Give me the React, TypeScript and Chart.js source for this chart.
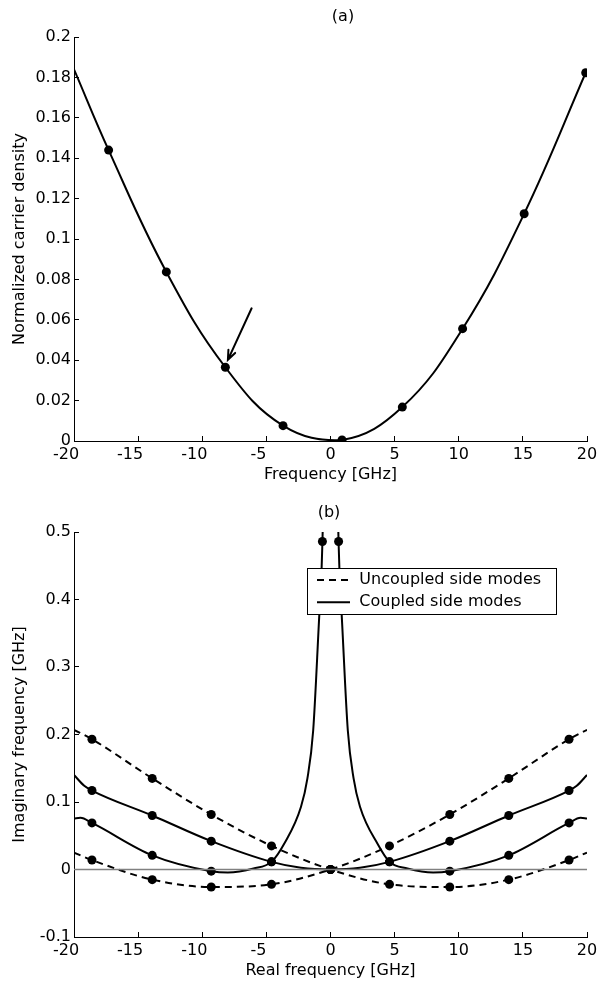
import React, { useEffect, useRef } from "react";
import { Chart, registerables } from "chart.js";

Chart.register(...registerables);

// ---------------- Panel (a) data ----------------
const xTickValues = [-20, -15, -10, -5, 0, 5, 10, 15, 20];
const yTickValuesA = [0, 0.02, 0.04, 0.06, 0.08, 0.1, 0.12, 0.14, 0.16, 0.18, 0.2];

const dotFreqA = [-17.3, -12.8, -8.2, -3.7, 0.9, 5.6, 10.3, 15.1, 19.9];
const dotDensityA = [0.144, 0.0837, 0.0365, 0.0076, 0.0005, 0.0168, 0.0556, 0.1125, 0.1823];

const curveFreqA = [-20, -17.3, -12.8, -8.2, -3.7, 0.9, 5.6, 10.3, 15.1, 20];
const curveDensityA = [0.184, 0.144, 0.0837, 0.0365, 0.0076, 0.0005, 0.0168, 0.0556, 0.1125, 0.1838];

const arrowFromA = [-6.15, 0.0657];
const arrowToA = [-8.0, 0.0402];

// ---------------- Panel (b) data ----------------
const yTickValuesB = [-0.1, 0, 0.1, 0.2, 0.3, 0.4, 0.5];

const dotRealB = [-18.6, -13.9, -9.3, -4.6, 0, 4.6, 9.3, 13.9, 18.6];
const dotUncoupled1 = [0.193, 0.135, 0.0815, 0.035, 0, -0.022, -0.026, -0.015, 0.014];
const dotUncoupled2 = [0.014, -0.015, -0.026, -0.022, 0, 0.035, 0.0815, 0.135, 0.193];
const dotCoupledUpper = [0.117, 0.08, 0.042, 0.0113, 0, 0.0113, 0.042, 0.08, 0.117];
const dotRealLowerB = [-18.6, -13.9, -9.3, -4.6, -0.63, 0.63, 4.6, 9.3, 13.9, 18.6];
const dotCoupledLower = [0.069, 0.021, -0.0025, 0.0113, 0.486, 0.486, 0.0113, -0.0025, 0.021, 0.069];

const curveRealB = [-20, -18.6, -13.9, -9.3, -4.6, 0, 4.6, 9.3, 13.9, 18.6, 20];
const curveUncoupled1 = [0.207, 0.193, 0.135, 0.0815, 0.035, 0, -0.022, -0.026, -0.015, 0.014, 0.025];
const curveUncoupled2 = [0.025, 0.014, -0.015, -0.026, -0.022, 0, 0.035, 0.0815, 0.135, 0.193, 0.207];

const curveRealUpperB = [-20, -19.2, -18.6, -13.9, -9.3, -4.6, -2.3, 0, 2.3, 4.6, 9.3, 13.9, 18.6, 19.2, 20];
const curveCoupledUpper = [0.14, 0.124, 0.117, 0.08, 0.042, 0.0113, 0.0025, 0, 0.0025, 0.0113, 0.042, 0.08, 0.117, 0.124, 0.14];

const curveRealLeftB = [-20, -19.5, -18.6, -13.9, -9.3, -8, -6, -4.6, -3.6, -2.3, -1.8, -1.35, -0.87, -0.72, -0.63, -0.61];
const curveCoupledLeft = [0.0756, 0.0765, 0.069, 0.021, -0.0025, -0.0045, 0.0015, 0.0113, 0.0385, 0.093, 0.135, 0.206, 0.378, 0.43, 0.486, 0.5];
const curveRealRightB = [0.61, 0.63, 0.72, 0.87, 1.35, 1.8, 2.3, 3.7, 4.6, 6, 8, 9.3, 13.9, 18.6, 19.5, 20];
const curveCoupledRight = [0.5, 0.486, 0.43, 0.378, 0.206, 0.135, 0.093, 0.037, 0.0113, 0.0015, -0.0045, -0.0025, 0.021, 0.069, 0.0765, 0.0756];

const zeroLineX = [-20, 20];
const zeroLineY = [0, 0];

const labelUncoupled = "Uncoupled side modes";
const labelCoupled = "Coupled side modes";

// ---------------- helpers ----------------
const FONT = "'DejaVu Sans', sans-serif";
const pts = (xs: number[], ys: number[]) => xs.map((x, i) => ({ x, y: ys[i] }));
const DASH = [7, 5];

Chart.defaults.font.family = FONT;
Chart.defaults.font.size = 16;
Chart.defaults.color = "#000";

const panelTitle = {
  id: "panelTitle",
  afterDraw(chart: any, _args: any, opts: any) {
    const { ctx, chartArea } = chart;
    ctx.save();
    ctx.font = `16px ${FONT}`;
    ctx.fillStyle = "#000";
    ctx.textAlign = "center";
    ctx.textBaseline = "middle";
    ctx.fillText(opts.text, (chartArea.left + chartArea.right) / 2 + opts.dx, chartArea.top + opts.dy);
    ctx.restore();
  },
};

const arrowMark = {
  id: "arrowMark",
  afterDatasetsDraw(chart: any, _args: any, opts: any) {
    if (!opts || !opts.from) return;
    const { ctx } = chart;
    const xs = chart.scales.x;
    const ys = chart.scales.y;
    const x1 = xs.getPixelForValue(opts.from[0]);
    const y1 = ys.getPixelForValue(opts.from[1]);
    const x2 = xs.getPixelForValue(opts.to[0]);
    const y2 = ys.getPixelForValue(opts.to[1]);
    const ang = Math.atan2(y2 - y1, x2 - x1);
    const hl = 10;
    const spread = 0.38;
    ctx.save();
    ctx.strokeStyle = "#000";
    ctx.lineWidth = 2;
    ctx.lineCap = "round";
    ctx.beginPath();
    ctx.moveTo(x1, y1);
    ctx.lineTo(x2, y2);
    ctx.moveTo(x2 - hl * Math.cos(ang - spread), y2 - hl * Math.sin(ang - spread));
    ctx.lineTo(x2, y2);
    ctx.lineTo(x2 - hl * Math.cos(ang + spread), y2 - hl * Math.sin(ang + spread));
    ctx.stroke();
    ctx.restore();
  },
};

const boxLegend = {
  id: "boxLegend",
  afterDatasetsDraw(chart: any, _args: any, opts: any) {
    if (!opts || !opts.enabled) return;
    const { ctx, chartArea } = chart;
    const items = chart.data.datasets.filter((d: any) => d.legendItem);
    const left = chartArea.left + opts.offsetLeft;
    const top = chartArea.top + opts.offsetTop;
    const w = opts.width;
    const h = opts.height;
    ctx.save();
    ctx.fillStyle = "#fff";
    ctx.fillRect(left, top, w, h);
    ctx.strokeStyle = "#000";
    ctx.lineWidth = 1;
    ctx.strokeRect(Math.round(left) + 0.5, Math.round(top) + 0.5, Math.round(w), Math.round(h));
    ctx.font = `16px ${FONT}`;
    ctx.fillStyle = "#000";
    ctx.textAlign = "left";
    ctx.textBaseline = "middle";
    items.forEach((d: any, i: number) => {
      const yy = top + opts.rowTop + i * opts.rowGap;
      ctx.beginPath();
      ctx.setLineDash(d.borderDash || []);
      ctx.lineWidth = d.borderWidth || 2;
      ctx.moveTo(left + opts.sampleStart, yy);
      ctx.lineTo(left + opts.sampleEnd, yy);
      ctx.stroke();
      ctx.setLineDash([]);
      ctx.fillText(d.label, left + opts.textStart, yy);
    });
    ctx.restore();
  },
};

const fmtY = (v: number) => String(Number(Number(v).toFixed(3)));
const fmtX = (v: number) => (v < 0 ? `${v}\u2003` : `${v}`);

function xScale(title: string, height: number, titlePadBottom: number) {
  return {
    type: "linear",
    min: -20,
    max: 20,
    afterBuildTicks: (s: any) => {
      s.ticks = xTickValues.map((v) => ({ value: v }));
    },
    afterFit: (s: any) => {
      s.height = height;
      s.paddingLeft = 0;
      s.paddingRight = 0;
    },
    grid: { display: true, drawOnChartArea: false, drawTicks: true, tickLength: -5, color: "#000", lineWidth: 1 },
    border: { display: true, color: "#000", width: 1 },
    ticks: { padding: 9, color: "#000", autoSkip: false, maxRotation: 0, font: { size: 16, family: FONT }, callback: (v: any) => fmtX(v) },
    title: { display: true, text: title, color: "#000", font: { size: 16, family: FONT }, padding: { top: 0, bottom: titlePadBottom } },
  };
}

function yScale(title: string, min: number, max: number, tickVals: number[]) {
  return {
    type: "linear",
    min,
    max,
    afterBuildTicks: (s: any) => {
      s.ticks = tickVals.map((v) => ({ value: v }));
    },
    afterFit: (s: any) => {
      s.width = 74;
      s.paddingTop = 0;
      s.paddingBottom = 0;
    },
    grid: { display: true, drawOnChartArea: false, drawTicks: true, tickLength: -5, color: "#000", lineWidth: 1 },
    border: { display: true, color: "#000", width: 1 },
    ticks: { padding: 8, color: "#000", autoSkip: false, font: { size: 16, family: FONT }, callback: (v: any) => fmtY(v) },
    title: { display: true, text: title, color: "#000", font: { size: 16, family: FONT }, padding: { top: 10.4, bottom: 0 } },
  };
}

const curveStyle = {
  borderColor: "#000",
  borderWidth: 2,
  pointRadius: 0,
  fill: false,
  cubicInterpolationMode: "monotone",
};
const dotStyle = {
  showLine: false,
  pointRadius: 4.5,
  pointBackgroundColor: "#000",
  pointBorderColor: "#000",
  pointBorderWidth: 0,
  borderColor: "#000",
  backgroundColor: "#000",
};

function buildConfigA(): any {
  return {
    type: "line",
    data: {
      datasets: [
        {
          label: "Carrier density curve",
          data: pts(curveFreqA, curveDensityA),
          borderColor: "#000",
          borderWidth: 2,
          pointRadius: 0,
          fill: false,
          cubicInterpolationMode: "default",
          tension: 0.4,
        },
        { label: "Carrier density points", data: pts(dotFreqA, dotDensityA), ...dotStyle },
      ],
    },
    options: {
      animation: false,
      responsive: false,
      devicePixelRatio: 1,
      events: [],
      layout: { padding: { top: 37, right: 11, left: 0, bottom: 0 } },
      plugins: {
        legend: { display: false },
        tooltip: { enabled: false },
        panelTitle: { text: "(a)", dx: 12.5, dy: -20.3 },
        arrowMark: { from: arrowFromA, to: arrowToA },
      },
      scales: {
        x: xScale("Frequency [GHz]", 49, 5.9),
        y: yScale("Normalized carrier density", 0, 0.2, yTickValuesA),
      },
    },
    plugins: [panelTitle, arrowMark],
  };
}

function buildConfigB(): any {
  return {
    type: "line",
    data: {
      datasets: [
        { label: "zero", data: pts(zeroLineX, zeroLineY), borderColor: "#808080", borderWidth: 1.5, pointRadius: 0, fill: false },
        { label: labelUncoupled, legendItem: true, data: pts(curveRealB, curveUncoupled1), ...curveStyle, borderDash: DASH },
        { label: labelUncoupled + " 2", data: pts(curveRealB, curveUncoupled2), ...curveStyle, borderDash: DASH },
        { label: labelCoupled, legendItem: true, data: pts(curveRealUpperB, curveCoupledUpper), ...curveStyle },
        { label: labelCoupled + " left", data: pts(curveRealLeftB, curveCoupledLeft), ...curveStyle },
        { label: labelCoupled + " right", data: pts(curveRealRightB, curveCoupledRight), ...curveStyle },
        { label: "dots u1", data: pts(dotRealB, dotUncoupled1), ...dotStyle },
        { label: "dots u2", data: pts(dotRealB, dotUncoupled2), ...dotStyle },
        { label: "dots cu", data: pts(dotRealB, dotCoupledUpper), ...dotStyle },
        { label: "dots cl", data: pts(dotRealLowerB, dotCoupledLower), ...dotStyle },
      ],
    },
    options: {
      animation: false,
      responsive: false,
      devicePixelRatio: 1,
      events: [],
      layout: { padding: { top: 42, right: 11, left: 0, bottom: 0 } },
      plugins: {
        legend: { display: false },
        tooltip: { enabled: false },
        panelTitle: { text: "(b)", dx: -1.5, dy: -18.7 },
        boxLegend: {
          enabled: true,
          offsetLeft: 233.3,
          offsetTop: 36.3,
          width: 248.5,
          height: 46,
          rowTop: 11.7,
          rowGap: 22.3,
          sampleStart: 9.7,
          sampleEnd: 42.7,
          textStart: 52,
        },
      },
      scales: {
        x: xScale("Real frequency [GHz]", 46, 2.9),
        y: yScale("Imaginary frequency [GHz]", -0.1, 0.5, yTickValuesB),
      },
    },
    plugins: [panelTitle, boxLegend],
  };
}

function ChartCanvas({ build, width, height }: { build: () => any; width: number; height: number }) {
  const ref = useRef<HTMLCanvasElement | null>(null);
  useEffect(() => {
    if (!ref.current) return;
    const chart = new Chart(ref.current, build());
    return () => chart.destroy();
  }, [build]);
  return <canvas ref={ref} width={width} height={height} style={{ display: "block" }} />;
}

export default function App() {
  return (
    <div style={{ position: "absolute", left: 0, top: 0, width: 598, height: 983, background: "#fff", overflow: "hidden" }}>
      <ChartCanvas build={buildConfigA} width={598} height={490} />
      <ChartCanvas build={buildConfigB} width={598} height={493} />
    </div>
  );
}
